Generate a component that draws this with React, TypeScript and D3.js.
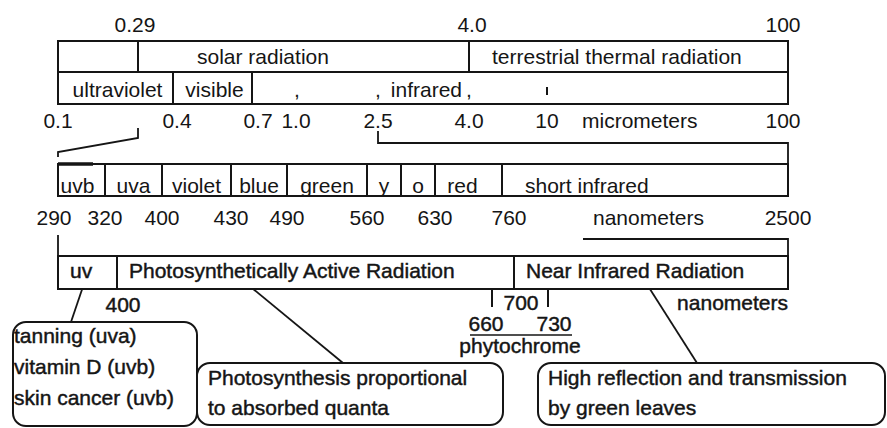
import React, { useEffect, useRef } from 'react';
import * as d3 from 'd3';

// micrometer strips
const sourceBands = [
  { label: '', from: 0.1, to: 0.29 },
  { label: 'solar radiation', from: 0.29, to: 4.0 },
  { label: 'terrestrial thermal radiation', from: 4.0, to: 100 },
];
const micronBands = [
  { label: 'ultraviolet', from: 0.1, to: 0.4 },
  { label: 'visible', from: 0.4, to: 0.7 },
  { label: 'infrared', from: 0.7, to: 100 },
];
const sourceTicks = [0.29, 4.0, 100];
const micronTicks = [0.1, 0.4, 0.7, 1.0, 2.5, 4.0, 10, 100];
const micronCommas = [1.0, 2.5, 4.0];
const micronMinor = [10];

// nanometer strip
const colorBands = [
  { label: 'uvb', from: 290, to: 320 },
  { label: 'uva', from: 320, to: 400 },
  { label: 'violet', from: 400, to: 430 },
  { label: 'blue', from: 430, to: 490 },
  { label: 'green', from: 490, to: 560 },
  { label: 'y', from: 560, to: 590 },
  { label: 'o', from: 590, to: 630 },
  { label: 'red', from: 630, to: 760 },
  { label: 'short infrared', from: 760, to: 2500 },
];
const nmTicks = [290, 320, 400, 430, 490, 560, 630, 760, 2500];

// plant radiation strip
const radiationBands = [
  { label: 'uv', from: 290, to: 400 },
  { label: 'Photosynthetically Active Radiation', from: 400, to: 700 },
  { label: 'Near Infrared Radiation', from: 700, to: 2500 },
];
const radiationTicks = [400, 700];
const phytochromeTicks = [660, 730];

const callouts = [
  ['tanning (uva)', 'vitamin D (uvb)', 'skin cancer (uvb)'],
  ['Photosynthesis proportional', 'to absorbed quanta'],
  ['High reflection and transmission', 'by green leaves'],
];

const fmtMicron = (v: number) => (v >= 10 ? String(v) : v === 0.29 ? '0.29' : v.toFixed(1));

const SpectrumDiagram: React.FC<{ width?: number; height?: number }> = ({ width = 887, height = 428 }) => {
  const svgRef = useRef<SVGSVGElement>(null);

  useEffect(() => {
    if (!svgRef.current) return;
    const svg = d3.select(svgRef.current);
    svg.selectAll('*').remove();

    const ink = '#151515';
    const font = "'Liberation Sans', Arial, Helvetica, sans-serif";
    const fs = 21;

    svg.append('rect').attr('width', width).attr('height', height).attr('fill', '#ffffff');

    // schematic (non-linear) wavelength scales
    const xMicron = d3.scaleLinear()
      .domain([0.1, 0.29, 0.4, 0.7, 1.0, 2.5, 4.0, 10, 100])
      .range([58, 138, 173, 252, 297, 378, 469, 547, 788]);
    const xColor = d3.scaleLinear()
      .domain([290, 320, 400, 430, 490, 560, 590, 630, 760, 2500])
      .range([58, 105, 162, 231, 287, 367, 401, 435, 502, 788]);
    const xRad = d3.scaleLinear()
      .domain([290, 400, 660, 700, 730, 2500])
      .range([58, 117, 492, 514, 548, 788]);

    const text = (x: number, y: number, s: string, anchor = 'middle', bold = false) =>
      svg.append('text')
        .attr('x', x).attr('y', y)
        .attr('text-anchor', anchor)
        .attr('font-family', font)
        .attr('font-size', fs)
        .attr('fill', ink)
        .attr('stroke', bold ? ink : 'none')
        .attr('stroke-width', bold ? 0.45 : 0)
        .text(s);

    const line = (pts: [number, number][], w = 1.8) =>
      svg.append('path')
        .attr('d', d3.line()(pts))
        .attr('fill', 'none')
        .attr('stroke', ink)
        .attr('stroke-width', w)
        .attr('stroke-linejoin', 'miter');

    const strip = (bands: { from: number; to: number }[], x: d3.ScaleLinear<number, number>, y0: number, y1: number) => {
      svg.append('g').selectAll('rect')
        .data(bands)
        .enter().append('rect')
        .attr('x', d => x(d.from))
        .attr('y', y0)
        .attr('width', d => x(d.to) - x(d.from))
        .attr('height', y1 - y0)
        .attr('fill', 'none')
        .attr('stroke', ink)
        .attr('stroke-width', 2);
    };

    // ---- micrometer section ----
    const sTop = 41, sMid = 72, sBot = 104;
    strip(sourceBands, xMicron, sTop, sMid);
    strip(micronBands, xMicron, sMid, sBot);

    sourceTicks.forEach(v => text(xMicron(v) - (v === 100 ? 5 : v === 0.29 ? 3 : -3), 32, fmtMicron(v)));
    text(xMicron(0.29) + 59, 64, sourceBands[1].label, 'start');
    text(xMicron(4.0) + 23, 64, sourceBands[2].label, 'start');

    micronBands.slice(0, 2).forEach(b => text((xMicron(b.from) + xMicron(b.to)) / 2 + 2, 97, b.label));
    text(xMicron(4.0) - 7, 97, micronBands[2].label, 'end');
    micronCommas.forEach(v => text(xMicron(v), 97, ','));
    micronMinor.forEach(v => line([[xMicron(v), 87], [xMicron(v), 95]], 2));

    micronTicks.forEach(v => {
      const nudge = v === 0.7 ? 6 : v === 100 ? -5 : v === 0.4 ? 4 : v === 1.0 ? -1 : 0;
      text(xMicron(v) + nudge, 128, fmtMicron(v));
    });
    text(xMicron(10) + 35, 128, 'micrometers', 'start');

    // ---- brackets from micrometers to nanometers ----
    const cTop = 164, cBot = 196;
    line([[xMicron(0.29), 128], [xMicron(0.29), 138], [xColor(290), 152], [xColor(290), 157]]);
    line([[xMicron(2.5), 131], [xMicron(2.5), 143], [xColor(2500), 143], [xColor(2500), cTop]]);

    // ---- nanometer colour strip ----
    strip(colorBands, xColor, cTop, cBot);
    line([[xColor(290), cTop], [xColor(290) + 35, cTop]], 3.5);
    colorBands.forEach(b => {
      if (b.to === 2500) text(xColor(b.from) + 23, 193, b.label, 'start');
      else text((xColor(b.from) + xColor(b.to)) / 2 - (b.from === 290 ? 4 : b.from === 630 ? 6 : 0), 193, b.label);
    });
    nmTicks.forEach(v => text(xColor(v) + (v === 760 ? 7 : v === 290 ? -4 : 0), 225, String(v)));
    text(593, 225, 'nanometers', 'start');

    // ---- brackets to radiation strip ----
    const rTop = 256, rBot = 289;
    line([[xColor(290), 235], [xRad(290), rTop]]);
    line([[583, 239], [xColor(2500), 239], [xRad(2500), rTop]]);

    // ---- radiation strip ----
    strip(radiationBands, xRad, rTop, rBot);
    radiationBands.forEach(b => text(xRad(b.from) + 12, 278, b.label, 'start', true));

    text(xRad(radiationTicks[0]) + 6, 312, String(radiationTicks[0]), 'middle', true);
    text(xRad(radiationTicks[1]) + 7, 310, String(radiationTicks[1]), 'middle', true);
    phytochromeTicks.forEach(v => line([[xRad(v), 290], [xRad(v), 307]], 2));
    text(xRad(phytochromeTicks[0]) - 6, 331, String(phytochromeTicks[0]), 'middle', true);
    text(xRad(phytochromeTicks[1]) + 6, 331, String(phytochromeTicks[1]), 'middle', true);
    line([[xRad(phytochromeTicks[0]) - 22, 335], [xRad(phytochromeTicks[1]) + 24, 335]], 1.5);
    text((xRad(phytochromeTicks[0]) + xRad(phytochromeTicks[1])) / 2, 353, 'phytochrome', 'middle', true);
    text(xRad(2500), 310, 'nanometers', 'end', true);

    // ---- callouts ----
    const boxes = [
      { x: 13, y: 322, w: 184, h: 104, anchor: 0.41, tx: 14, base: 343, step: 31 },
      { x: 197, y: 363, w: 306, h: 62, anchor: 0.343, tx: 208, base: 385, step: 30 },
      { x: 538, y: 363, w: 347, h: 62, anchor: 0.496, tx: 548, base: 385, step: 30 },
    ];
    const joins = [[71, 322], [343, 363], [697, 363]];
    boxes.forEach((b, i) => {
      const band = radiationBands[i];
      const ax = xRad(band.from) + b.anchor * (xRad(band.to) - xRad(band.from));
      line([[ax, rBot], joins[i] as [number, number]], 1.8);
      svg.append('rect')
        .attr('x', b.x).attr('y', b.y)
        .attr('width', b.w).attr('height', b.h)
        .attr('rx', 13).attr('ry', 13)
        .attr('fill', 'none')
        .attr('stroke', ink)
        .attr('stroke-width', 2);
      callouts[i].forEach((s, j) => text(b.tx, b.base + j * b.step, s, 'start', true));
    });
  }, [width, height]);

  return (
    <svg
      ref={svgRef}
      width={width}
      height={height}
      viewBox={`0 0 ${width} ${height}`}
      style={{ position: 'fixed', left: 0, top: 0, display: 'block' }}
    />
  );
};

export default function App() {
  return <SpectrumDiagram />;
}
